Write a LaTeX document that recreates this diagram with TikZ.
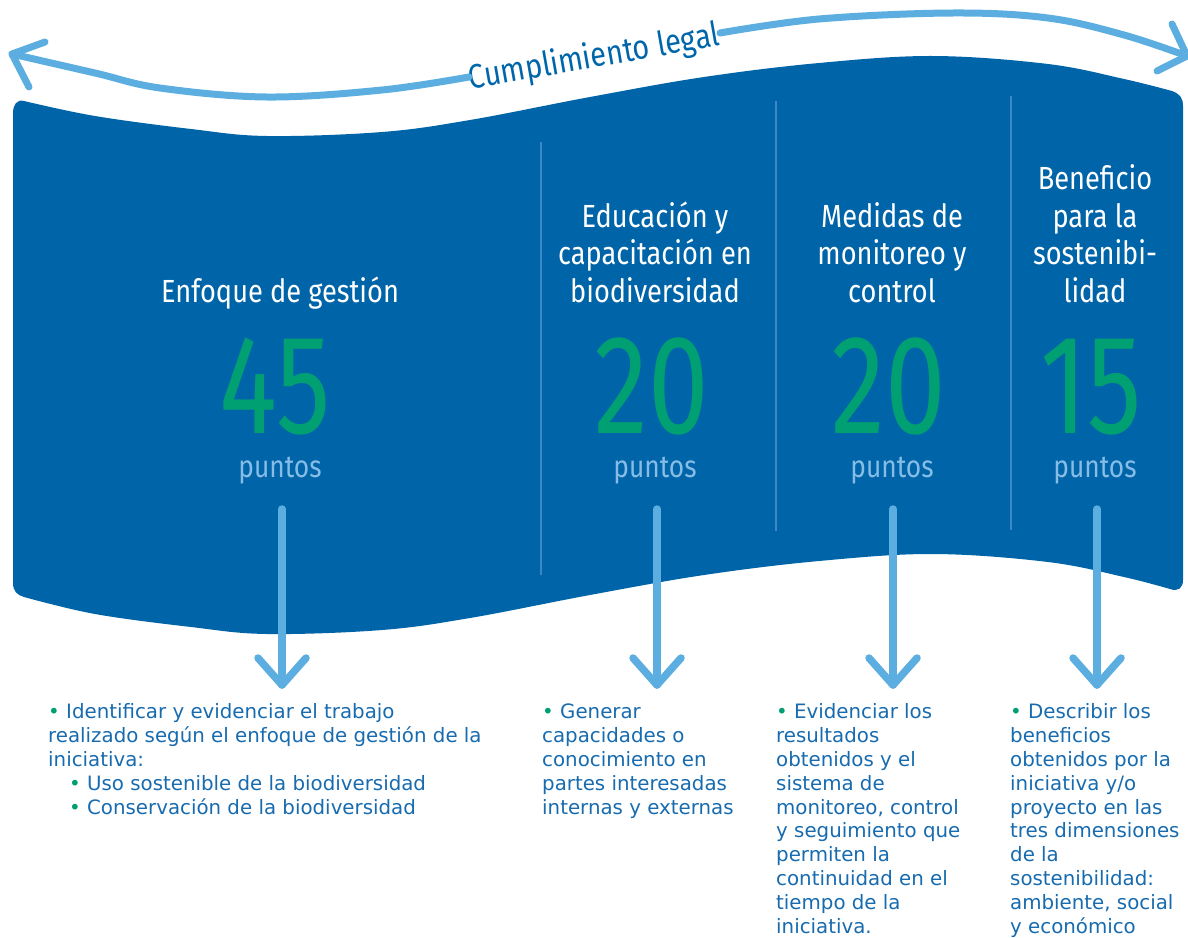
\documentclass[tikz,border=0pt]{standalone}
\usepackage{fontspec}
\setmainfont{DejaVu Sans}
\newfontfamily\headfont[FakeStretch=0.85]{Fira Sans}
\newfontfamily\numfont[FakeStretch=0.77]{Fira Sans}
\definecolor{banner}{HTML}{0064A8}
\definecolor{lblue}{HTML}{5BAEDF}
\definecolor{bgreen}{HTML}{00A072}
\definecolor{ptblue}{HTML}{86BDE6}
\definecolor{txtblue}{HTML}{176BAE}
\definecolor{ttlblue}{HTML}{0066AA}
\definecolor{divblue}{HTML}{3D88C4}
\newcommand\bul{{\color{bgreen}\textbullet}}
\tikzset{
  arr/.style={draw=lblue, line width=7.5pt, line cap=round, line join=round},
  divline/.style={draw=divblue, line width=1.6pt},
  head/.style={text=white, align=center, inner sep=0pt, anchor=base,
    font=\headfont\fontsize{32}{37.5}\selectfont},
  num/.style={text=bgreen, inner sep=0pt, anchor=base, text height=97pt, text depth=0pt,
    font=\numfont\fontsize{141}{141}\selectfont},
  pts/.style={text=ptblue, inner sep=0pt, anchor=base, text height=20pt, text depth=6pt,
    font=\headfont\fontsize{31}{31}\selectfont},
  desc/.style={anchor=base west, inner sep=0pt, align=left, text=txtblue,
    font=\fontsize{19.8}{23.8}\selectfont},
}
\begin{document}
\begin{tikzpicture}[x=1pt,y=-1pt]
\useasboundingbox (0,0) rectangle (1188,937);
% banner
\fill[banner] (24,101)
  -- plot[smooth, tension=0.6] coordinates {(24,101) (95,116) (191,129) (267,136) (382,132) (470,120) (590,97) (704,77) (819,63) (933,56) (1048,64) (1124,79) (1172,91)}
  .. controls (1180,94) and (1183,98) .. (1183,106)
  -- (1183,580) .. controls (1183,588) and (1178,592) .. (1170,589)
  -- plot[smooth, tension=0.6] coordinates {(1170,589) (1124,577) (1048,562) (933,554) (819,561) (704,575) (590,595) (470,618) (382,630) (267,634) (191,627) (95,614) (24,597)}
  .. controls (17,595) and (13,591) .. (13,583)
  -- (13,113) .. controls (13,105) and (17,99) .. (24,101) -- cycle;
% dividers
\coordinate (d1a) at (541,142); \coordinate (d1b) at (541,575);
\coordinate (d2a) at (776,101); \coordinate (d2b) at (776,531);
\coordinate (d3a) at (1011,96); \coordinate (d3b) at (1011,530);
\draw[divline] (d1a) -- (d1b);
\draw[divline] (d2a) -- (d2b);
\draw[divline] (d3a) -- (d3b);
% top arrow
\node[text=ttlblue, inner sep=0pt, rotate=10, font=\headfont\fontsize{34}{34}\selectfont] (ttl) at (594,58) {Cumplimiento legal};
\coordinate (lt) at (12,54);
\coordinate (rt) at (1187,56);
\draw[arr, line width=7pt] plot[smooth, tension=0.6] coordinates {(469,77) (382,90) (267,97) (160,88) (95,73) (12,54)};
\draw[arr, line width=7pt] plot[smooth, tension=0.6] coordinates {(720,33) (819,19) (953,13) (1048,18) (1124,35) (1187,56)};
\draw[arr, line width=7pt] (45,42) -- (lt) -- (29,87);
\draw[arr, line width=7pt] (1172,24) -- (rt) -- (1157,71);
% headings (anchored at the baseline of their last line)
\node[head] (h1) at (280,302) {Enfoque de gestión};
\node[head] (h2) at (655,302) {Educación y\\capacitación en\\biodiversidad};
\node[head] (h3) at (892,302) {Medidas de\\monitoreo y\\control};
\node[head] (h4) at (1095,302) {Beneficio\\para la\\sostenibi-\\lidad};
% numbers
\node[num] (n1) at (275,433) {45};
\node[num] (n2) at (652,433) {20};
\node[num] (n3) at (889,433) {20};
\node[num] (n4) at (1091,433) {15};
% puntos
\node[pts] (p1) at (280,477) {puntos};
\node[pts] (p2) at (655,477) {puntos};
\node[pts] (p3) at (892,477) {puntos};
\node[pts] (p4) at (1095,477) {puntos};
% vertical arrows
\foreach \i/\x in {1/282,2/657,3/893,4/1097}{
  \coordinate (s\i) at (\x,509);
  \coordinate (t\i) at (\x,685);
  \draw[arr] (s\i) -- (t\i);
  \draw[arr] (t\i) ++(-24,-27) -- (t\i) -- ++(24,-27);
}
% descriptions (anchored at the baseline of their last line)
\node[desc] (c1) at (48,814) {\bul\ Identificar y evidenciar el trabajo\\realizado según el enfoque de gestión de la\\iniciativa:\\\hspace*{21pt}\bul\ Uso sostenible de la biodiversidad\\\hspace*{21pt}\bul\ Conservación de la biodiversidad};
\node[desc] (c2) at (542,814) {\bul\ Generar\\capacidades o\\conocimiento en\\partes interesadas\\internas y externas};
\node[desc] (c3) at (776,933) {\bul\ Evidenciar los\\resultados\\obtenidos y el\\sistema de\\monitoreo, control\\y seguimiento que\\permiten la\\continuidad en el\\tiempo de la\\iniciativa.};
\node[desc] (c4) at (1010,933) {\bul\ Describir los\\beneficios\\obtenidos por la\\iniciativa y/o\\proyecto en las\\tres dimensiones\\de la\\sostenibilidad:\\ambiente, social\\y económico};
\end{tikzpicture}
\end{document}
